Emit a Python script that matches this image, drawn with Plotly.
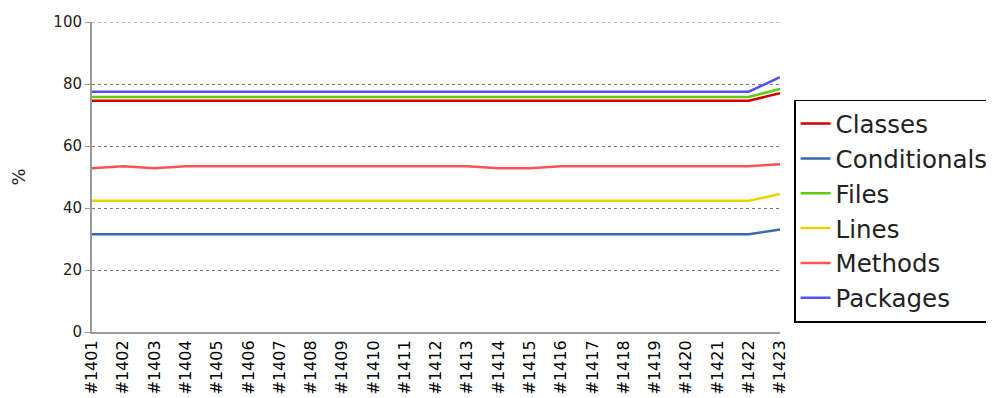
import plotly.graph_objects as go

builds = ["#14%02d" % i for i in range(1, 24)]

classes = [74.6] * 22 + [77.0]
conditionals = [31.5] * 22 + [33.1]
files = [75.8] * 22 + [78.4]
lines = [42.3] * 22 + [44.5]
methods = [52.8, 53.5, 52.8, 53.5, 53.5, 53.5, 53.5, 53.5, 53.5, 53.5, 53.5, 53.5,
           53.5, 52.8, 52.8, 53.5, 53.5, 53.5, 53.5, 53.5, 53.5, 53.5, 54.1]
packages = [77.5] * 22 + [82.2]

series = [
    ("Classes", classes, "#d40000"),
    ("Conditionals", conditionals, "#3869b1"),
    ("Files", files, "#5ccc0c"),
    ("Lines", lines, "#f0d000"),
    ("Methods", methods, "#ff5252"),
    ("Packages", packages, "#5050ff"),
]

fig = go.Figure()
for name, vals, col in series:
    fig.add_trace(go.Scatter(
        x=builds, y=vals, name=name, legendgroup=name,
        mode="lines", line=dict(color=col, width=2.5),
    ))

# dashed line at the top (plotly drops the gridline sitting on the edge)
fig.add_hline(y=100, line=dict(color="#777", width=1, dash="3px,3px"), layer="below")

# page body has an 8px margin, so the plot box is shifted back by that
fig.update_layout(
    width=994, height=398,
    margin=dict(l=84, r=222, t=14, b=74, autoexpand=False),
    plot_bgcolor="white", paper_bgcolor="white",
    font=dict(family="DejaVu Sans", color="#222"),
    showlegend=True,
    legend=dict(
        x=1.0205, xanchor="left", y=0.39, yanchor="middle",
        bordercolor="black", borderwidth=1.5,
        font=dict(size=24.5, color="#222"),
        tracegroupgap=0,
    ),
    xaxis=dict(
        type="category", range=[0, 22],
        showgrid=False, showline=True, linecolor="#999", linewidth=2,
        tickangle=-90, tickfont=dict(size=16, color="black"),
        ticks="", zeroline=False,
    ),
    yaxis=dict(
        range=[0, 100], tickvals=[0, 20, 40, 60, 80, 100],
        showgrid=True, gridcolor="#777", griddash="3px,3px", gridwidth=1,
        showline=True, linecolor="#999", linewidth=2,
        ticks="outside", ticklen=5, tickcolor="#999",
        tickfont=dict(size=15, color="#222"),
        title=dict(text="%", font=dict(size=18, color="#222"), standoff=28),
        zeroline=False,
    ),
)

fig.write_html("out.html")
